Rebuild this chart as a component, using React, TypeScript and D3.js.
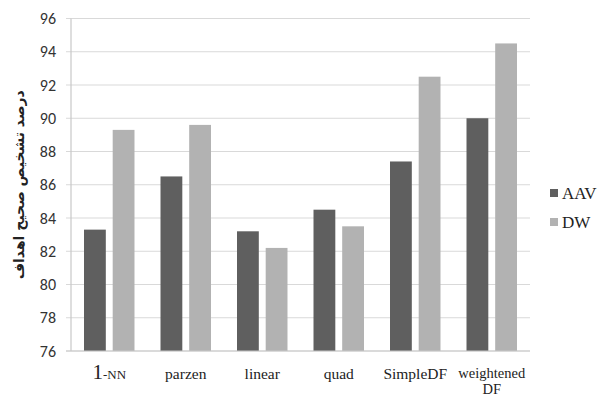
import { useEffect, useRef } from "react";
import * as d3 from "d3";

const categories = ["1-NN", "parzen", "linear", "quad", "Simple DF", "weightened DF"];
const aav = [83.3, 86.5, 83.2, 84.5, 87.4, 90.0];
const dw = [89.3, 89.6, 82.2, 83.5, 92.5, 94.5];
const seriesNames = ["AAV", "DW"];
const yTicks = [76, 78, 80, 82, 84, 86, 88, 90, 92, 94, 96];
const yTitle = "درصد تشخیص صحیح اهداف";

const App = () => {
  const ref = useRef<SVGSVGElement>(null);

  useEffect(() => {
    const svg = d3.select(ref.current);
    svg.selectAll("*").remove();

    const width = 600;
    const height = 397;
    const margin = { top: 18.5, right: 70, bottom: 46, left: 71 };
    const colors = ["#5f5f5f", "#b2b2b2"];

    const x = d3.scaleBand<string>().domain(categories).range([margin.left, width - margin.right]).paddingInner(0.34).paddingOuter(0.17);
    const x1 = d3.scaleBand<string>().domain(seriesNames).range([0, x.bandwidth()]).paddingInner(0.24);
    const y = d3.scaleLinear().domain([76, 96]).range([height - margin.bottom, margin.top]);

    // grid
    svg.append("g")
      .selectAll("line")
      .data(yTicks)
      .join("line")
      .attr("x1", margin.left - 5)
      .attr("x2", width - margin.right)
      .attr("y1", d => y(d))
      .attr("y2", d => y(d))
      .attr("stroke", "#d9d9d9")
      .attr("stroke-width", 1.2);

    svg.append("line")
      .attr("x1", margin.left).attr("x2", margin.left)
      .attr("y1", y(96)).attr("y2", y(76))
      .attr("stroke", "#c8c8c8").attr("stroke-width", 1.2);

    svg.append("g")
      .selectAll("text")
      .data(yTicks)
      .join("text")
      .attr("x", margin.left - 15)
      .attr("y", d => y(d))
      .attr("dy", "0.35em")
      .attr("text-anchor", "end")
      .attr("font-family", "Carlito, 'Liberation Sans', sans-serif")
      .attr("font-size", 16)
      .attr("fill", "#333")
      .text(d => d);

    const series = [aav, dw];
    series.forEach((vals, si) => {
      svg.append("g")
        .selectAll("rect")
        .data(vals)
        .join("rect")
        .attr("x", (_, i) => (x(categories[i]) ?? 0) + (x1(seriesNames[si]) ?? 0))
        .attr("width", x1.bandwidth())
        .attr("y", d => y(d))
        .attr("height", d => y(76) - y(d))
        .attr("fill", colors[si]);
    });

    svg.append("line")
      .attr("x1", margin.left - 5).attr("x2", width - margin.right)
      .attr("y1", y(76)).attr("y2", y(76))
      .attr("stroke", "#c8c8c8").attr("stroke-width", 1.2);

    // category labels
    const labels = svg.append("g")
      .attr("font-family", "'Liberation Serif', 'Times New Roman', serif")
      .attr("font-size", 15.5)
      .attr("fill", "#222");
    categories.forEach(c => {
      const cx = (x(c) ?? 0) + x.bandwidth() / 2;
      if (c === "weightened DF") {
        labels.append("text").attr("x", cx).attr("y", 378).attr("text-anchor", "middle")
          .attr("font-size", 14.5).text("weightened");
        labels.append("text").attr("x", cx).attr("y", 394).attr("text-anchor", "middle")
          .attr("font-size", 14.5).text("DF");
        return;
      }
      const t = labels.append("text").attr("x", cx).attr("y", 379).attr("text-anchor", "middle");
      if (c === "1-NN") {
        t.append("tspan").attr("font-size", 21).text("1");
        t.append("tspan").attr("font-size", 13).text("-NN");
      } else if (c === "Simple DF") {
        t.text("SimpleDF");
      } else {
        t.text(c);
      }
    });

    // y title
    svg.append("text")
      .attr("transform", `translate(24, ${y(86)}) rotate(-90)`)
      .attr("text-anchor", "middle")
      .attr("font-family", "'DejaVu Sans', sans-serif")
      .attr("font-weight", "bold")
      .attr("font-size", 14)
      .attr("fill", "#222")
      .text(yTitle);

    // legend
    const legend = svg.append("g");
    seriesNames.forEach((s, i) => {
      const ly = 193 + i * 29;
      legend.append("rect").attr("x", 550).attr("y", ly - 4).attr("width", 8).attr("height", 8).attr("fill", colors[i]);
      legend.append("text")
        .attr("x", 562).attr("y", ly).attr("dy", "0.35em")
        .attr("font-family", "'Liberation Serif', serif")
        .attr("font-size", 17)
        .attr("fill", "#222")
        .text(s);
    });
  }, []);

  return <svg ref={ref} width="600" height="397" style={{ display: "block", position: "absolute", left: 0, top: 0, background: "#fff" }}></svg>;
};

export default App;
